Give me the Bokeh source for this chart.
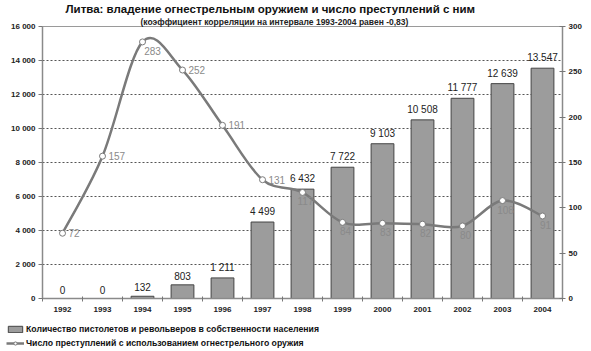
from bokeh.plotting import figure
from bokeh.layouts import column
from bokeh.models import (Range1d, LinearAxis, FixedTicker, ColumnDataSource, Legend, LegendItem,
                          Title, CustomJSTickFormatter)
from bokeh.embed import file_html
from bokeh.resources import INLINE
from bokeh.core.properties import value

years = ["1992", "1993", "1994", "1995", "1996", "1997", "1998", "1999", "2000", "2001", "2002", "2003", "2004"]
guns = [0, 0, 132, 803, 1211, 4499, 6432, 7722, 9103, 10508, 11777, 12639, 13547]
crimes = [72, 157, 283, 252, 191, 131, 117, 84, 83, 82, 80, 108, 91]
left_ticks = [0, 2000, 4000, 6000, 8000, 10000, 12000, 14000, 16000]
right_ticks = [0, 50, 100, 150, 200, 250, 300]

title_text = "Литва: владение огнестрельным оружием и число преступлений с ним"
subtitle_text = "(коэффициент корреляции на интервале 1993-2004 равен -0,83)"
bar_name = "Количество пистолетов и револьверов в собственности населения"
line_name = "Число преступлений с использованием огнестрельного оружия"

FONT = "Liberation Sans"
BAR_FILL = "#9c9c9c"
BAR_LINE = "#444444"
LINE_COL = "#7a7a7a"
n = len(years)
xc = [i + 0.5 for i in range(n)]

def fmt(v):
    return f"{v:,}".replace(",", " ")

p = figure(width=591, height=316, output_backend="svg", toolbar_location=None,
           x_range=Range1d(0, n), y_range=Range1d(0, 16000), title=None,
           min_border_left=42, min_border_right=29, min_border_top=0, min_border_bottom=18,
           background_fill_color="white", border_fill_color="white")
p.extra_y_ranges = {"r": Range1d(0, 300)}
p.outline_line_color = "#9a9a9a"
p.outline_line_width = 1

# titles
p.add_layout(Title(text=subtitle_text, text_font=FONT, text_font_size="8.5px", text_font_style="bold",
                   align="left", offset=98, standoff=0, text_color="#222222"), "above")
p.add_layout(Title(text=title_text, text_font=FONT, text_font_size="11.5px", text_font_style="bold",
                   align="left", offset=23, standoff=0, text_color="#111111"), "above")

# grid
p.xgrid.visible = False
p.ygrid.ticker = FixedTicker(ticks=left_ticks)
p.ygrid.grid_line_color = "#555555"
p.ygrid.grid_line_dash = "2 2"
p.ygrid.grid_line_width = 1

# axes
lab_style = dict(major_label_text_font=FONT, major_label_text_font_size="8px",
                 major_label_text_font_style="bold", major_label_text_color="#222222")
ax_b = p.xaxis[0]
ax_b.ticker = FixedTicker(ticks=xc, minor_ticks=list(range(n + 1)))
ax_b.major_label_overrides = {xc[i]: years[i] for i in range(n)}
ax_b.major_tick_out = 0
ax_b.major_tick_in = 0
ax_b.minor_tick_out = 3
ax_b.minor_tick_in = 2
ax_b.minor_tick_line_color = "#777777"
ax_b.axis_line_color = "#8a8a8a"
ax_b.axis_line_width = 1.5
ax_b.major_label_standoff = 5
for k, v in lab_style.items():
    setattr(ax_b, k, v)

ax_l = p.yaxis[0]
ax_l.ticker = FixedTicker(ticks=left_ticks)
ax_l.formatter = CustomJSTickFormatter(code="return tick.toLocaleString('en-US').replace(/,/g, ' ');")
ax_l.major_tick_out = 4
ax_l.major_tick_in = 0
ax_l.minor_tick_out = 0
ax_l.axis_line_color = "#8a8a8a"
ax_l.axis_line_width = 1.5
ax_l.major_tick_line_color = "#777777"
ax_l.major_label_standoff = 3
for k, v in lab_style.items():
    setattr(ax_l, k, v)

ax_r = LinearAxis(y_range_name="r", ticker=FixedTicker(ticks=right_ticks))
ax_r.major_tick_out = 3
ax_r.major_tick_in = 3
ax_r.minor_tick_out = 0
ax_r.axis_line_color = "#8a8a8a"
ax_r.axis_line_width = 1.5
ax_r.major_tick_line_color = "#777777"
ax_r.major_label_standoff = 3
for k, v in lab_style.items():
    setattr(ax_r, k, v)
p.add_layout(ax_r, "right")

# bars
src = ColumnDataSource(dict(x=xc, top=guns, lab=[fmt(v) for v in guns]))
p.vbar(x="x", top="top", width=0.57, source=src, fill_color=BAR_FILL,
       line_color=BAR_LINE, line_width=1)
p.text(x="x", y="top", text="lab", source=src, text_font=value(FONT), text_font_size="10px",
       text_color="#222222", text_align="center", text_baseline="bottom", y_offset=-5)

# smoothed line (Catmull-Rom Bezier segments through the data points)
x0s, y0s, x1s, y1s, cx0, cy0, cx1, cy1 = [], [], [], [], [], [], [], []
for i in range(n - 1):
    xm, ym = (xc[i - 1], crimes[i - 1]) if i > 0 else (xc[i], crimes[i])
    xp2, yp2 = (xc[i + 2], crimes[i + 2]) if i + 2 < n else (xc[i + 1], crimes[i + 1])
    x0s.append(xc[i]); y0s.append(crimes[i])
    x1s.append(xc[i + 1]); y1s.append(crimes[i + 1])
    cx0.append(xc[i] + (xc[i + 1] - xm) / 6); cy0.append(crimes[i] + (crimes[i + 1] - ym) / 6)
    cx1.append(xc[i + 1] - (xp2 - xc[i]) / 6); cy1.append(crimes[i + 1] - (yp2 - crimes[i]) / 6)
p.bezier(x0=x0s, y0=y0s, x1=x1s, y1=y1s, cx0=cx0, cy0=cy0, cx1=cx1, cy1=cy1,
         y_range_name="r", line_color=LINE_COL, line_width=2.5)

lsrc = ColumnDataSource(dict(x=xc, y=crimes))
p.scatter(x="x", y="y", source=lsrc, y_range_name="r", size=6, marker="circle",
          fill_color="white", line_color=LINE_COL, line_width=1)

# line labels (placement styling)
right_side = [0, 1, 3, 4, 5]
for i in range(n):
    if i in right_side:
        kw = dict(text_align="left", text_baseline="middle", x_offset=6, y_offset=0)
    elif i == 2:
        kw = dict(text_align="center", text_baseline="top", x_offset=10, y_offset=5)
    else:
        kw = dict(text_align="center", text_baseline="top", x_offset=3, y_offset=5)
    p.text(x=[xc[i]], y=[crimes[i]], text=[str(crimes[i])], y_range_name="r",
           text_font=value(FONT), text_font_size="10px", text_color="#8a8a8a", **kw)

# legend strip (separate small figure, swatches drawn off-range)
lg = figure(width=591, height=35, output_backend="svg", toolbar_location=None,
            x_range=Range1d(0, 1), y_range=Range1d(0, 1), min_border=0,
            background_fill_color="white", border_fill_color="white")
lg.axis.visible = False
lg.grid.visible = False
lg.outline_line_color = None
r_bar = lg.vbar(x=[-5], top=[-5], bottom=[-6], width=0.1, fill_color=BAR_FILL,
                line_color=BAR_LINE, line_width=1)
r_line = lg.line(x=[-5, -4], y=[-5, -5], line_color=LINE_COL, line_width=2.5)
r_dot = lg.scatter(x=[-5], y=[-5], size=6, marker="circle", fill_color="white",
                   line_color=LINE_COL, line_width=1)
legend = Legend(items=[LegendItem(label=bar_name, renderers=[r_bar]),
                       LegendItem(label=line_name, renderers=[r_line, r_dot])],
                location=(6, 3), orientation="vertical",
                label_text_font=FONT, label_text_font_size="8.7px", label_text_font_style="bold",
                label_text_color="#111111", glyph_width=18, glyph_height=8,
                spacing=4, padding=2, margin=0, label_standoff=2,
                border_line_color=None, background_fill_color=None, label_height=10)
lg.add_layout(legend)
try:
    lg.frame_align = False
    p.frame_align = False
except Exception:
    pass

open("out.html", "w").write(file_html(column(p, lg, spacing=0), INLINE))
